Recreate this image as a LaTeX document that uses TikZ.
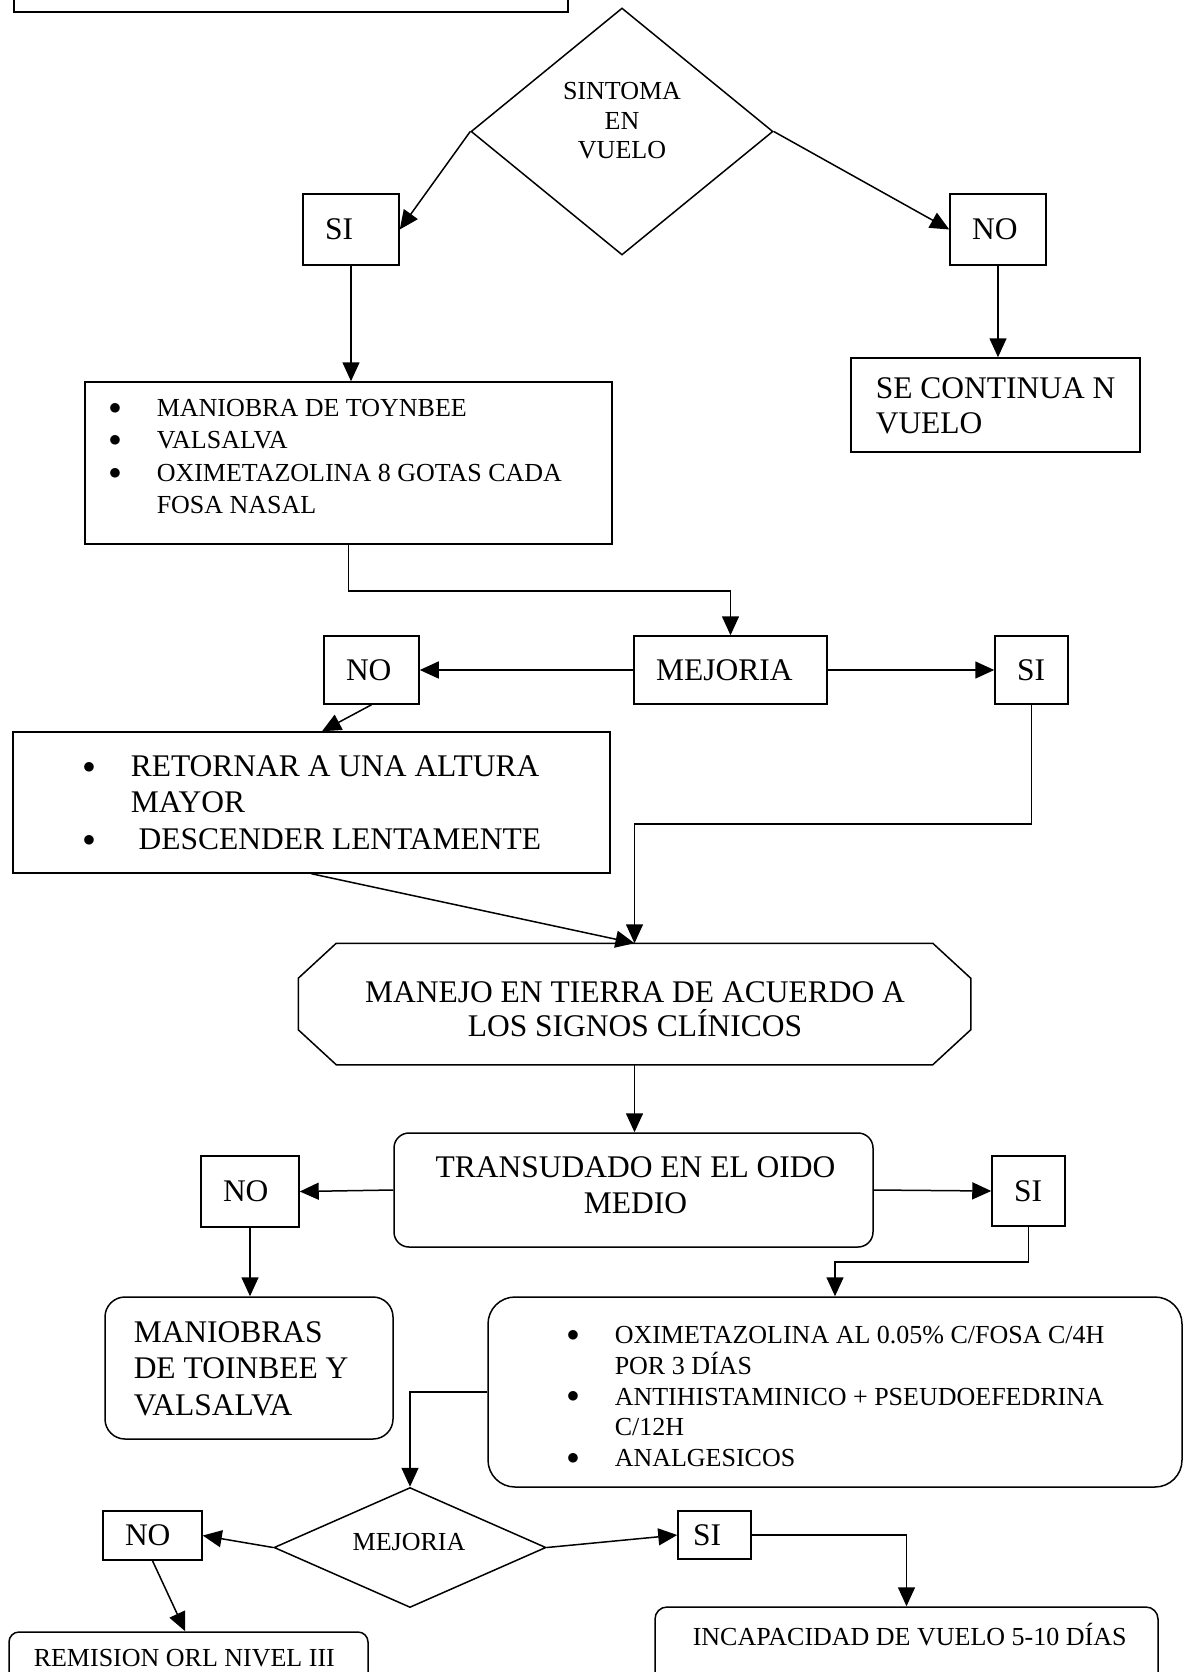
\documentclass[tikz,border=0pt]{standalone}
\usepackage{fontspec}
\setmainfont{Liberation Serif}
\usetikzlibrary{arrows.meta,shapes.geometric,calc}

% font size with explicit baseline skip
\newcommand\setfs[2]{\fontsize{#1}{#2}\selectfont}
% bulleted line and its continuation line
\newcommand\bitem[1]{\makebox[48pt][l]{\raisebox{0.08em}{$\bullet$}}#1}
\newcommand\bcont[1]{\hspace*{48pt}#1}

\begin{document}
\begin{tikzpicture}[x=1pt,y=-1pt,
  line width=1.5pt,
  box/.style={draw, rectangle, inner sep=0pt},
  opt/.style={draw, rectangle, inner ysep=0pt, inner xsep=22pt, align=left,
              font=\setfs{31.5}{36}},
  txt/.style={inner sep=0pt},
  arr/.style={-{Triangle[length=19pt,width=17pt]}},
]
\fill[white] (0,0) rectangle (1185,1672);
\useasboundingbox (0,0) rectangle (1185,1672);
\clip (0,0) rectangle (1185,1672);

% ---------- top: decision in flight ----------
\node[box, minimum width=554pt, minimum height=100pt] (top) at (291,-38) {};

\node[draw, diamond, inner sep=0pt, minimum width=302pt, minimum height=247pt] (d1) at (622,131.5) {};
\node[txt, align=center, font=\setfs{26}{29.5}] (d1t) at (622,121) {SINTOMA\\EN\\VUELO};

\node[opt, text width=52pt, minimum height=71pt] (si1) at (351,229.5) {SI};
\node[opt, text width=52pt, minimum height=71pt] (no1) at (998,229.5) {NO};

\node[box, minimum width=527pt, minimum height=162pt] (b1) at (348.5,463) {};
\node[txt, anchor=west, align=left, font=\setfs{26}{32.3}] (b1t) at (108,456.5)
  {\bitem{MANIOBRA DE TOYNBEE}\\ \bitem{VALSALVA}\\ \bitem{OXIMETAZOLINA 8 GOTAS CADA}\\ \bcont{FOSA NASAL}};

\node[box, minimum width=289pt, minimum height=94pt] (se) at (995.5,405) {};
\node[txt, anchor=west, align=left, font=\setfs{31.5}{35}] (set) at (875,405.5) {SE CONTINUA N\\VUELO};

% ---------- improvement check ----------
\node[opt, text width=149pt, minimum height=68pt] (mej) at (730.5,670) {MEJORIA};
\node[opt, text width=51pt, minimum height=68pt] (no2) at (371.5,670) {NO};
\node[opt, text width=29pt, minimum height=68pt] (si2) at (1031.5,670) {SI};

\node[box, minimum width=597pt, minimum height=141pt] (b2) at (311.5,802.5) {};
\node[txt, anchor=west, align=left, font=\setfs{31.5}{36.5}] (b2t) at (82,802.5)
  {\bitem{RETORNAR A UNA ALTURA}\\ \bcont{MAYOR}\\ \bitem{\ DESCENDER LENTAMENTE}};

% ---------- ground management (octagon) ----------
\node[txt, minimum width=671pt, minimum height=120pt] (oct) at (634.5,1004) {};
\draw ($(oct.north west)+(38,0)$) -- ($(oct.north east)+(-38,0)$)
   -- ($(oct.north east)+(0,35)$) -- ($(oct.south east)+(0,-35)$)
   -- ($(oct.south east)+(-38,0)$) -- ($(oct.south west)+(38,0)$)
   -- ($(oct.south west)+(0,-35)$) -- ($(oct.north west)+(0,35)$) -- cycle;
\node[txt, align=center, font=\setfs{31.5}{34}] (octt) at (635,1009)
  {MANEJO EN TIERRA DE ACUERDO A\\LOS SIGNOS CLÍNICOS};

% ---------- middle ear transudate ----------
\node[box, rounded corners=15pt, minimum width=479pt, minimum height=114pt] (tr) at (633.5,1190) {};
\node[txt, align=center, font=\setfs{31.5}{36}] (trt) at (635.5,1185) {TRANSUDADO EN EL OIDO\\MEDIO};

\node[opt, text width=54pt, minimum height=71pt] (no3) at (250,1191.5) {NO};
\node[opt, text width=29pt, minimum height=70pt] (si3) at (1028.5,1191) {SI};

\node[box, rounded corners=20pt, minimum width=288pt, minimum height=142pt] (man) at (249,1368) {};
\node[txt, anchor=west, align=left, font=\setfs{31.5}{36.5}] (mant) at (133,1368.5)
  {MANIOBRAS\\DE TOINBEE Y\\VALSALVA};

\node[box, rounded corners=27pt, minimum width=694pt, minimum height=190pt] (big) at (835,1392) {};
\node[txt, anchor=west, align=left, font=\setfs{26}{30.75}] (bigt) at (566,1396.5)
  {\bitem{OXIMETAZOLINA AL 0.05\% C/FOSA C/4H}\\ \bcont{POR 3 DÍAS}\\
   \bitem{ANTIHISTAMINICO + PSEUDOEFEDRINA}\\ \bcont{C/12H}\\ \bitem{ANALGESICOS}};

% ---------- final decision ----------
\node[draw, diamond, inner sep=0pt, minimum width=272pt, minimum height=120pt] (d2) at (410,1547.5) {};
\node[txt, font=\setfs{26}{30}] (d2t) at (409,1542) {MEJORIA};

\node[opt, text width=55pt, minimum height=49pt] (no4) at (152.5,1535.5) {NO};
\node[opt, inner xsep=15pt, text width=43pt, minimum height=48pt] (si4) at (714.5,1535) {SI};

\node[box, rounded corners=10pt, minimum width=359pt, minimum height=80pt] (rem) at (188.5,1672) {};
\node[txt, anchor=west, font=\setfs{26}{30}] (remt) at (33,1658) {REMISION ORL NIVEL III};

\node[box, rounded corners=12pt, minimum width=503pt, minimum height=100pt] (inc) at (906.5,1657) {};
\node[txt, anchor=west, font=\setfs{26}{30}] (inct) at (692,1635) {INCAPACIDAD DE VUELO 5-10 DÍAS};

% ---------- connectors ----------
\draw[arr] (d1.west) -- (si1.east);
\draw[arr] (d1.east) -- (no1.west);
\draw[arr] (si1.south) -- (si1.south |- b1.north);
\draw[arr] (no1.south) -- (no1.south |- se.north);
\draw[arr] (b1.south) -- ++(0,46) -| (mej.north);
\draw[arr] (mej.west) -- (no2.east);
\draw[arr] (mej.east) -- (si2.west);
\draw[arr] (no2.south) -- ($(b2.north)+(10.5,0)$);
\draw[arr] (b2.south) -- (oct.north);
\draw[arr] (si2.south) -- ++(0,119) -| (oct.north);
\draw[arr] (oct.south) -- (oct.south |- tr.north);
\draw[arr] (tr.west) -- (no3.east);
\draw[arr] (tr.east) -- (si3.west);
\draw[arr] (no3.south) -- (no3.south |- man.north);
\draw[arr] (si3.south) -- ++(0,35) -| (big.north);
\draw[arr] (big.west) -| (d2.north);
\draw[arr] (d2.west) -- (no4.east);
\draw[arr] (d2.east) -- (si4.west);
\draw[arr] (no4.south) -- ($(rem.north west)+(177,0)$);
\draw[arr] (si4.east) -| (inc.north);
\end{tikzpicture}
\end{document}
